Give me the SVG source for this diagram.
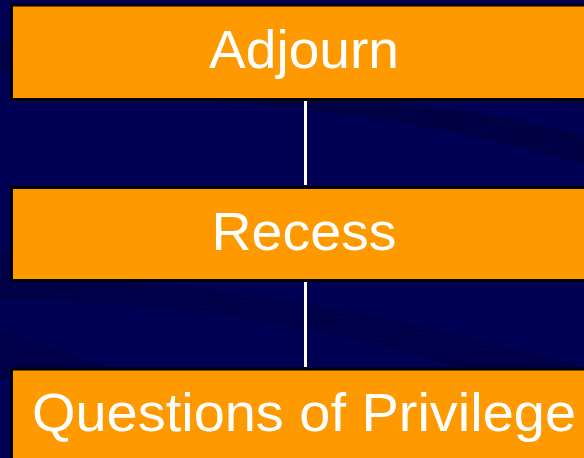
<svg xmlns="http://www.w3.org/2000/svg" width="584" height="458" viewBox="0 0 584 458">
<style>
.box{fill:#FF9900;stroke:#000000;stroke-width:3}
.lbl{font-family:"Liberation Sans",Arial,sans-serif;font-size:53px;fill:#FFFFFF;text-anchor:middle}
.conn{stroke:#FFFFFF;stroke-width:3;fill:none}
</style>
<rect x="0" y="0" width="584" height="458" fill="#000055"/>
<path d="M0,40 L584,60 L584,110 Q400,60 200,102 L0,70 Z" fill="#000040" opacity="0.6"/>
<path d="M200,102 Q400,110 584,165 L584,135 Q420,95 300,101 Z" fill="#000038" opacity="0.6"/>
<path d="M0,250 L140,283 Q350,300 584,367 L584,410 Q300,300 0,300 Z" fill="#000040" opacity="0.6"/>
<path d="M0,330 L120,370 L0,380 Z" fill="#000040" opacity="0.5"/>
<g id="connectors">
<line class="conn" x1="305.5" y1="101" x2="305.5" y2="185"/>
<line class="conn" x1="305.5" y1="282" x2="305.5" y2="367"/>
</g>
<g id="node-adjourn">
<rect class="box" x="11.5" y="5" width="580" height="94.5"/>
<text class="lbl" x="304" y="68" textLength="190" lengthAdjust="spacingAndGlyphs">Adjourn</text>
</g>
<g id="node-recess">
<rect class="box" x="11.5" y="187.5" width="580" height="93"/>
<text class="lbl" x="304" y="250" textLength="185" lengthAdjust="spacingAndGlyphs">Recess</text>
</g>
<g id="node-privilege">
<rect class="box" x="11.5" y="369" width="580" height="100"/>
<text class="lbl" x="304" y="431" textLength="544" lengthAdjust="spacingAndGlyphs">Questions of Privilege</text>
</g>
</svg>
